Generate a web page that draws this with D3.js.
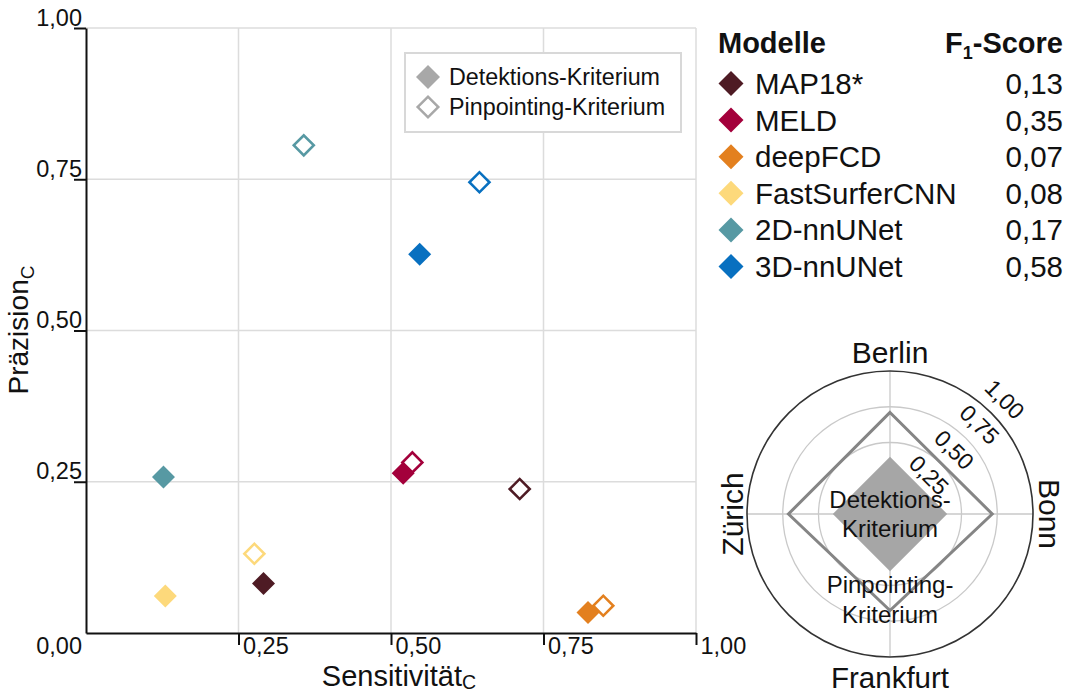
<!DOCTYPE html>
<html><head><meta charset="utf-8">
<script src="https://cdn.jsdelivr.net/npm/d3@7"></script>
<style>
body{margin:0;background:#fff}
text{font-family:"Liberation Sans",Arial,Helvetica,sans-serif;fill:#111}
</style>
</head><body>
<svg id="c" width="1069" height="693"></svg>
<script>
// ---------- data ----------
const models = ["MAP18*", "MELD", "deepFCD", "FastSurferCNN", "2D-nnUNet", "3D-nnUNet"];
const modelColors = ["#4e1b24", "#a3003b", "#e3801f", "#fdd97b", "#5799a3", "#0870c0"];
const f1Scores = ["0,13", "0,35", "0,07", "0,08", "0,17", "0,58"];
const detSens = [0.291, 0.520, 0.823, 0.130, 0.127, 0.547];
const detPrec = [0.082, 0.264, 0.034, 0.061, 0.258, 0.626];
const pinSens = [0.711, 0.535, 0.848, 0.276, 0.357, 0.645];
const pinPrec = [0.238, 0.282, 0.045, 0.131, 0.806, 0.745];
const tickVals = [0.25, 0.5, 0.75, 1.0];
const criteria = ["Detektions-Kriterium", "Pinpointing-Kriterium"];
const sites = ["Berlin", "Bonn", "Frankfurt", "Zürich"];
const radarDet = [0.40, 0.40, 0.40, 0.40];
const radarPin = [0.71, 0.715, 0.675, 0.71];
const radarTicks = [0.25, 0.5, 0.75, 1.0];

const fmt = d => d3.format(".2f")(d).replace(".", ",");
const svg = d3.select("#c");
const diamond = h => d3.symbol(d3.symbolSquare, 2 * h * h)();

// ---------- scatter ----------
const x = d3.scaleLinear().domain([0, 1]).range([86, 696]);
const y = d3.scaleLinear().domain([0, 1]).range([633, 28]);

const grid = svg.append("g");
grid.selectAll("line.v").data(tickVals).join("line").attr("class", "v")
  .attr("x1", d => x(d)).attr("x2", d => x(d)).attr("y1", y(0)).attr("y2", y(1))
  .attr("stroke", "#dcdcdc").attr("stroke-width", 1.5);
grid.selectAll("line.h").data(tickVals).join("line").attr("class", "h")
  .attr("x1", x(0)).attr("x2", x(1)).attr("y1", d => y(d)).attr("y2", d => y(d))
  .attr("stroke", "#dcdcdc").attr("stroke-width", 1.5);

const gx = svg.append("g").attr("transform", `translate(0,${y(0)})`)
  .call(d3.axisBottom(x).tickValues(tickVals).tickFormat(fmt).tickSize(12).tickSizeOuter(0));
const gy = svg.append("g").attr("transform", `translate(${x(0)},0)`)
  .call(d3.axisLeft(y).tickValues(tickVals).tickFormat(fmt).tickSize(12).tickSizeOuter(0));
[gx, gy].forEach(g => {
  g.select(".domain").attr("stroke", "#111").attr("stroke-width", 2);
  g.selectAll(".tick line").attr("stroke", "#111").attr("stroke-width", 2);
  g.selectAll(".tick text").attr("font-size", 23.5).attr("fill", "#111")
   .style("font-family", "'Liberation Sans',Arial,sans-serif");
});
gx.selectAll(".tick text").attr("text-anchor", "start").attr("x", 4).attr("y", 21).attr("dy", null);
gy.selectAll(".tick text").attr("text-anchor", "end").attr("x", -4).attr("y", -3).attr("dy", null);
svg.append("text").attr("x", x(0) - 4).attr("y", y(0) + 21).attr("text-anchor", "end")
  .attr("font-size", 23.5).text(fmt(0));

// axis titles
const xt = svg.append("text").attr("x", 399).attr("y", 686).attr("text-anchor", "middle").attr("font-size", 29);
xt.append("tspan").text("Sensitivität");
xt.append("tspan").attr("font-size", 19.5).attr("dy", 3).text("C");
const yt = svg.append("text").attr("transform", "translate(28,330) rotate(-90)").attr("text-anchor", "middle").attr("font-size", 28);
yt.append("tspan").text("Präzision");
yt.append("tspan").attr("font-size", 19).attr("dy", 6).text("C");

// legend box
const lg = svg.append("g");
lg.append("rect").attr("x", 405).attr("y", 53).attr("width", 276).attr("height", 79)
  .attr("fill", "#fff").attr("stroke", "#d8d8d8").attr("stroke-width", 2);
criteria.forEach((c, i) => {
  const cy = 77 + i * 30;
  lg.append("path").attr("d", diamond(i === 0 ? 12 : 10.3))
    .attr("transform", `translate(428,${cy}) rotate(45)`)
    .attr("fill", i === 0 ? "#a8a8a8" : "#fff")
    .attr("stroke", i === 0 ? "none" : "#a8a8a8").attr("stroke-width", 2.5);
  lg.append("text").attr("x", 449).attr("y", cy + 7.5).attr("font-size", 23.3).text(c);
});

// points
const idx = d3.range(models.length);
svg.append("g").selectAll("path").data(idx).join("path")
  .attr("d", diamond(11.5))
  .attr("transform", i => `translate(${x(detSens[i])},${y(detPrec[i])}) rotate(45)`)
  .attr("fill", i => modelColors[i]);
svg.append("g").selectAll("path").data(idx).join("path")
  .attr("d", diamond(10))
  .attr("transform", i => `translate(${x(pinSens[i])},${y(pinPrec[i])}) rotate(45)`)
  .attr("fill", "#fff").attr("stroke", i => modelColors[i]).attr("stroke-width", 2.6);

// ---------- right legend ----------
const rl = svg.append("g");
rl.append("text").attr("x", 718).attr("y", 53).attr("font-size", 29).attr("font-weight", "bold").text("Modelle");
const ft = rl.append("text").attr("x", 1063).attr("y", 53).attr("text-anchor", "end")
  .attr("font-size", 29).attr("font-weight", "bold");
ft.append("tspan").text("F");
ft.append("tspan").attr("font-size", 18).attr("dy", 6).text("1");
ft.append("tspan").attr("dy", -6).text("-Score");
models.forEach((m, i) => {
  const by = 94 + i * 36.6;
  rl.append("path").attr("d", diamond(12.5))
    .attr("transform", `translate(731,${by - 10.5}) rotate(45)`).attr("fill", modelColors[i]);
  rl.append("text").attr("x", 755).attr("y", by).attr("font-size", 29.5).text(m);
  rl.append("text").attr("x", 1063).attr("y", by).attr("font-size", 29.5).attr("text-anchor", "end").text(f1Scores[i]);
});

// ---------- radar ----------
const cx = 890, cy = 514, R = 143;
const r = d3.scaleLinear().domain([0, 1]).range([0, R]);
const ang = d3.scalePoint().domain(sites).range([0, 2 * Math.PI * 3 / 4]);
const rg = svg.append("g").attr("transform", `translate(${cx},${cy})`);
rg.selectAll("circle.g").data(radarTicks.slice(0, 3)).join("circle").attr("class", "g")
  .attr("r", d => r(d)).attr("fill", "none").attr("stroke", "#c9c9c9").attr("stroke-width", 1.3);
rg.selectAll("line.a").data(sites).join("line").attr("class", "a")
  .attr("x1", 0).attr("y1", 0)
  .attr("x2", d => r(1) * Math.sin(ang(d))).attr("y2", d => -r(1) * Math.cos(ang(d)))
  .attr("stroke", "#c9c9c9").attr("stroke-width", 1.3);
rg.append("circle").attr("r", r(1)).attr("fill", "none").attr("stroke", "#333").attr("stroke-width", 1.6);

const radial = d3.lineRadial().curve(d3.curveLinearClosed)
  .angle((d, i) => ang(sites[i])).radius(d => r(d));
rg.append("path").attr("d", radial(radarDet)).attr("fill", "#a6a6a6");
rg.append("path").attr("d", radial(radarPin)).attr("fill", "none").attr("stroke", "#858585").attr("stroke-width", 3);

// radial tick labels
rg.selectAll("text.rt").data(radarTicks).join("text").attr("class", "rt")
  .attr("transform", d => {
    const dd = r(d) + 19.5;
    return `translate(${dd * Math.SQRT1_2},${-dd * Math.SQRT1_2}) rotate(45)`;
  })
  .attr("text-anchor", "middle").attr("dy", "0.36em").attr("font-size", 23).text(fmt);

// site labels
rg.append("text").attr("x", 0).attr("y", -151).attr("text-anchor", "middle").attr("font-size", 30).text(sites[0]);
rg.append("text").attr("transform", "translate(149,0) rotate(90)").attr("text-anchor", "middle").attr("font-size", 30).text(sites[1]);
rg.append("text").attr("x", 0).attr("y", 174).attr("text-anchor", "middle").attr("font-size", 29.5).text(sites[2]);
rg.append("text").attr("transform", "translate(-147,0) rotate(-90)").attr("text-anchor", "middle").attr("font-size", 30).text(sites[3]);

// inner labels
const inner = [["Detektions-", -6], ["Kriterium", 23], ["Pinpointing-", 79], ["Kriterium", 109]];
inner.forEach(([t, yy]) => rg.append("text").attr("x", 0).attr("y", yy).attr("text-anchor", "middle").attr("font-size", 24).text(t));
</script>
</body></html>
